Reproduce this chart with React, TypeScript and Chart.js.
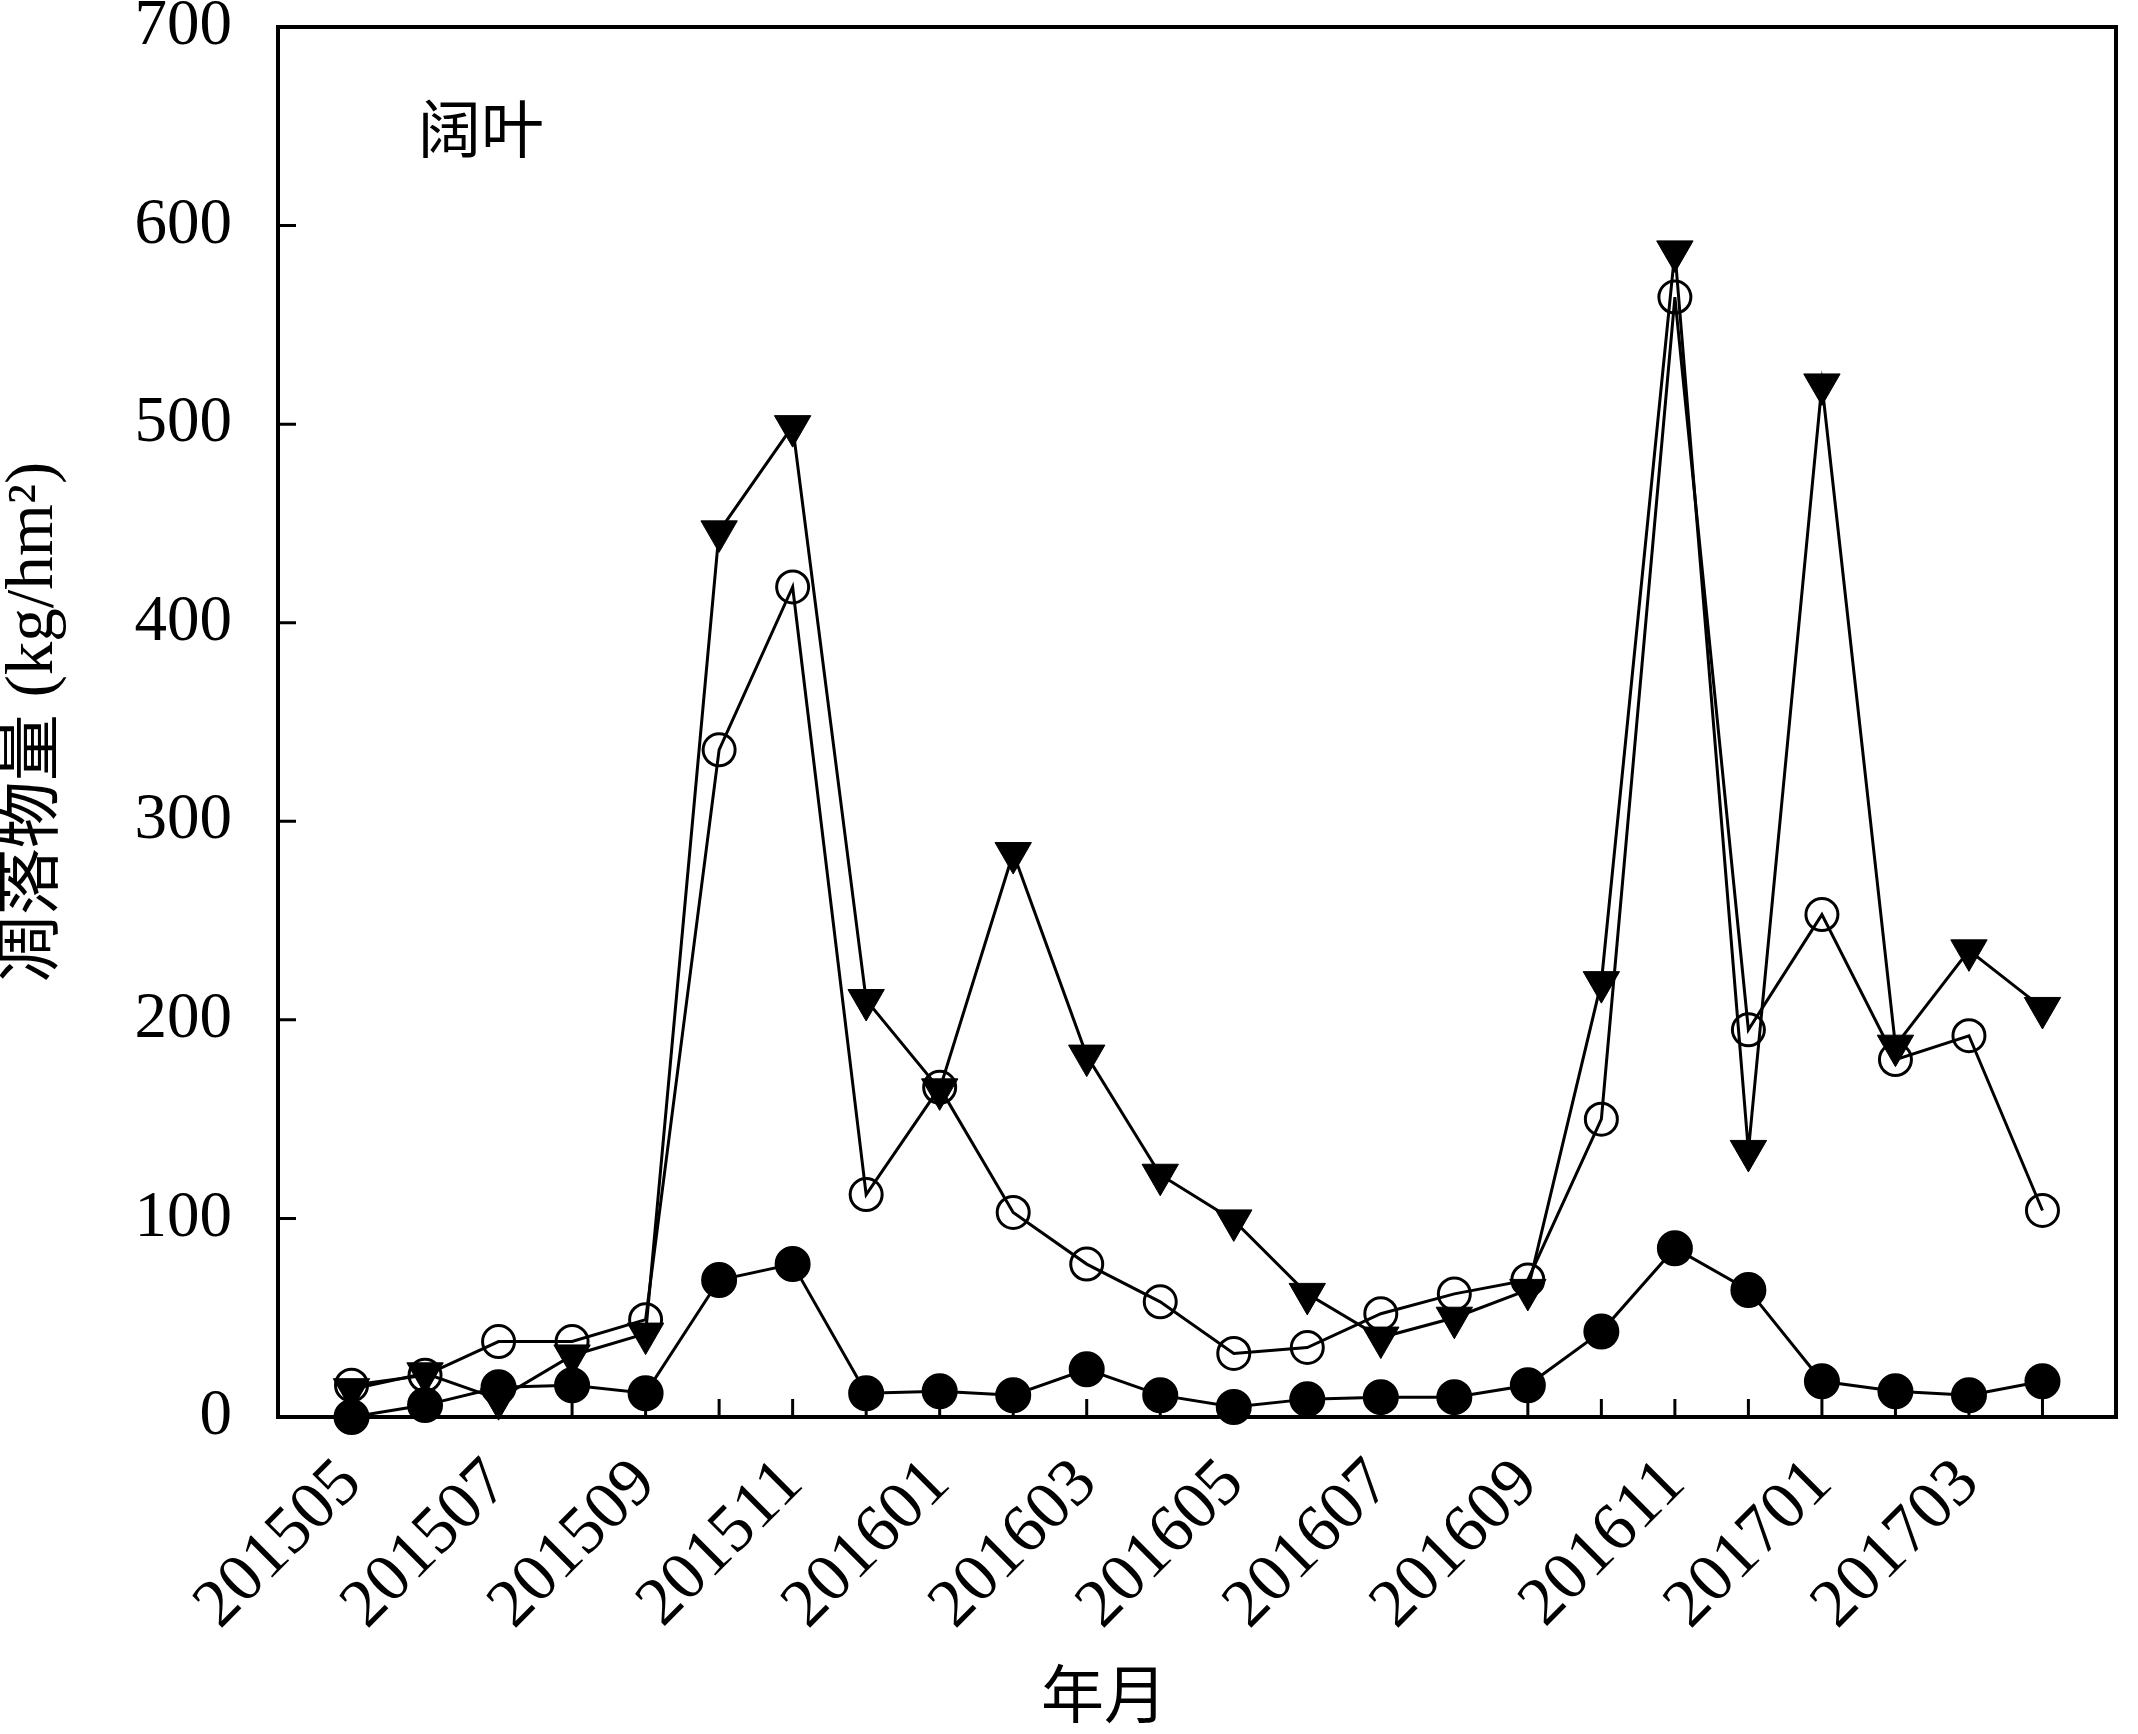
import { useEffect, useRef } from 'react';
import { Chart, registerables } from 'chart.js';

Chart.register(...registerables);

// 月份 (x axis), one point per month
const MONTHS = [
  '201505', '201506', '201507', '201508', '201509', '201510', '201511', '201512',
  '201601', '201602', '201603', '201604', '201605', '201606', '201607', '201608',
  '201609', '201610', '201611', '201612', '201701', '201702', '201703', '201704',
];

// litter mass, kg/hm2
const FILLED = [0, 6, 15, 16, 12, 69, 77, 12, 13, 11, 24, 11, 5, 9, 10, 10, 16, 43, 85, 64, 18, 13, 11, 18];
const OPEN = [16, 21, 38, 38, 49, 336, 418, 112, 166, 103, 77, 58, 32, 35, 52, 62, 69, 150, 564, 195, 253, 180, 192, 104];
const TRIANGLE = [14, 22, 9, 31, 42, 446, 499, 210, 165, 284, 182, 122, 99, 62, 40, 50, 64, 219, 587, 134, 520, 187, 235, 206];

const Y_TICKS = [0, 100, 200, 300, 400, 500, 600, 700];
const Y_INNER_TICKS = [100, 200, 300, 400, 500, 600];

const PANEL_LABEL = '阔叶';
const X_TITLE = '年月';
const Y_TITLE = '凋落物量 (kg/hm²)';

const SERIF = "'Liberation Serif', 'Times New Roman', 'Noto Sans CJK SC', serif";

const toPoints = (vals: number[]) => vals.map((y, i) => ({ x: i, y }));

const framePlugin = {
  id: 'frame',
  beforeDatasetsDraw(chart: Chart) {
    const { ctx, chartArea: a, scales } = chart;
    const x = scales.x;
    const y = scales.y;
    ctx.save();
    ctx.strokeStyle = '#000';
    ctx.lineWidth = 3;
    ctx.beginPath();
    MONTHS.forEach((_, i) => {
      const px = x.getPixelForValue(i);
      ctx.moveTo(px, a.bottom);
      ctx.lineTo(px, a.bottom - 18);
    });
    Y_INNER_TICKS.forEach(v => {
      const py = y.getPixelForValue(v);
      ctx.moveTo(a.left, py);
      ctx.lineTo(a.left + 18, py);
    });
    ctx.stroke();
    ctx.lineWidth = 4;
    ctx.strokeRect(a.left, a.top, a.right - a.left, a.bottom - a.top);
    ctx.restore();
  },
  afterDraw(chart: Chart) {
    const { ctx, chartArea: a } = chart;
    ctx.save();
    ctx.fillStyle = '#000';
    ctx.font = `63px ${SERIF}`;
    ctx.textBaseline = 'middle';
    ctx.textAlign = 'left';
    ctx.fillText(PANEL_LABEL, a.left + 140, a.top + 108);

    ctx.textAlign = 'center';
    ctx.fillText(X_TITLE, 1104, 1700);

    ctx.translate(34, (a.top + a.bottom) / 2);
    ctx.rotate(-Math.PI / 2);
    ctx.font = `67px ${SERIF}`;
    ctx.fillText(Y_TITLE, 0, 0);
    ctx.restore();
  },
};

export default function App() {
  const canvasRef = useRef<HTMLCanvasElement>(null);

  useEffect(() => {
    document.body.style.margin = '0';
    document.body.style.overflow = 'hidden';
    if (!canvasRef.current) return;

    const chart = new Chart(canvasRef.current, {
      type: 'line',
      data: {
        datasets: [
          {
            data: toPoints(FILLED),
            borderColor: '#000',
            borderWidth: 3,
            pointStyle: 'circle',
            pointRadius: 17,
            pointBackgroundColor: '#000',
            pointBorderColor: '#000',
            pointBorderWidth: 2,
            tension: 0,
            clip: false,
          },
          {
            data: toPoints(OPEN),
            borderColor: '#000',
            borderWidth: 3,
            pointStyle: 'circle',
            pointRadius: 16,
            pointBackgroundColor: 'rgba(0,0,0,0)',
            pointBorderColor: '#000',
            pointBorderWidth: 3,
            tension: 0,
            clip: false,
          },
          {
            data: toPoints(TRIANGLE),
            borderColor: '#000',
            borderWidth: 3,
            pointStyle: 'triangle',
            pointRotation: 180,
            pointRadius: 21,
            pointBackgroundColor: '#000',
            pointBorderColor: '#000',
            pointBorderWidth: 1,
            tension: 0,
            clip: false,
          },
        ],
      },
      options: {
        animation: false,
        responsive: true,
        maintainAspectRatio: false,
        layout: { padding: { top: 27, right: 5, left: 0, bottom: 0 } },
        plugins: {
          legend: { display: false },
          tooltip: { enabled: false },
        },
        scales: {
          x: {
            type: 'linear',
            min: -1,
            max: 24,
            grid: { display: false, drawTicks: false },
            border: { display: false },
            afterBuildTicks: (s: any) => { s.ticks = MONTHS.map((_, i) => ({ value: i })); },
            ticks: {
              autoSkip: false,
              minRotation: 45,
              maxRotation: 45,
              padding: 27,
              color: '#000',
              font: { family: SERIF, size: 68 },
              callback: (v: any) => (Number(v) % 2 === 0 ? MONTHS[Number(v)] : ''),
            },
            afterFit: (s: any) => { s.height = 317; s.paddingLeft = 0; s.paddingRight = 0; },
          },
          y: {
            min: 0,
            max: 700,
            grid: { display: false, drawTicks: false },
            border: { display: false },
            afterBuildTicks: (s: any) => { s.ticks = Y_TICKS.map(v => ({ value: v })); },
            ticks: { padding: 46, color: '#000', font: { family: SERIF, size: 65 } },
            afterFit: (s: any) => { s.width = 278; s.paddingTop = 0; s.paddingBottom = 0; },
          },
        },
      },
      plugins: [framePlugin],
    });

    return () => chart.destroy();
  }, []);

  return (
    <div style={{ width: 2138, height: 1734, background: '#fff' }}>
      <canvas ref={canvasRef} />
    </div>
  );
}
